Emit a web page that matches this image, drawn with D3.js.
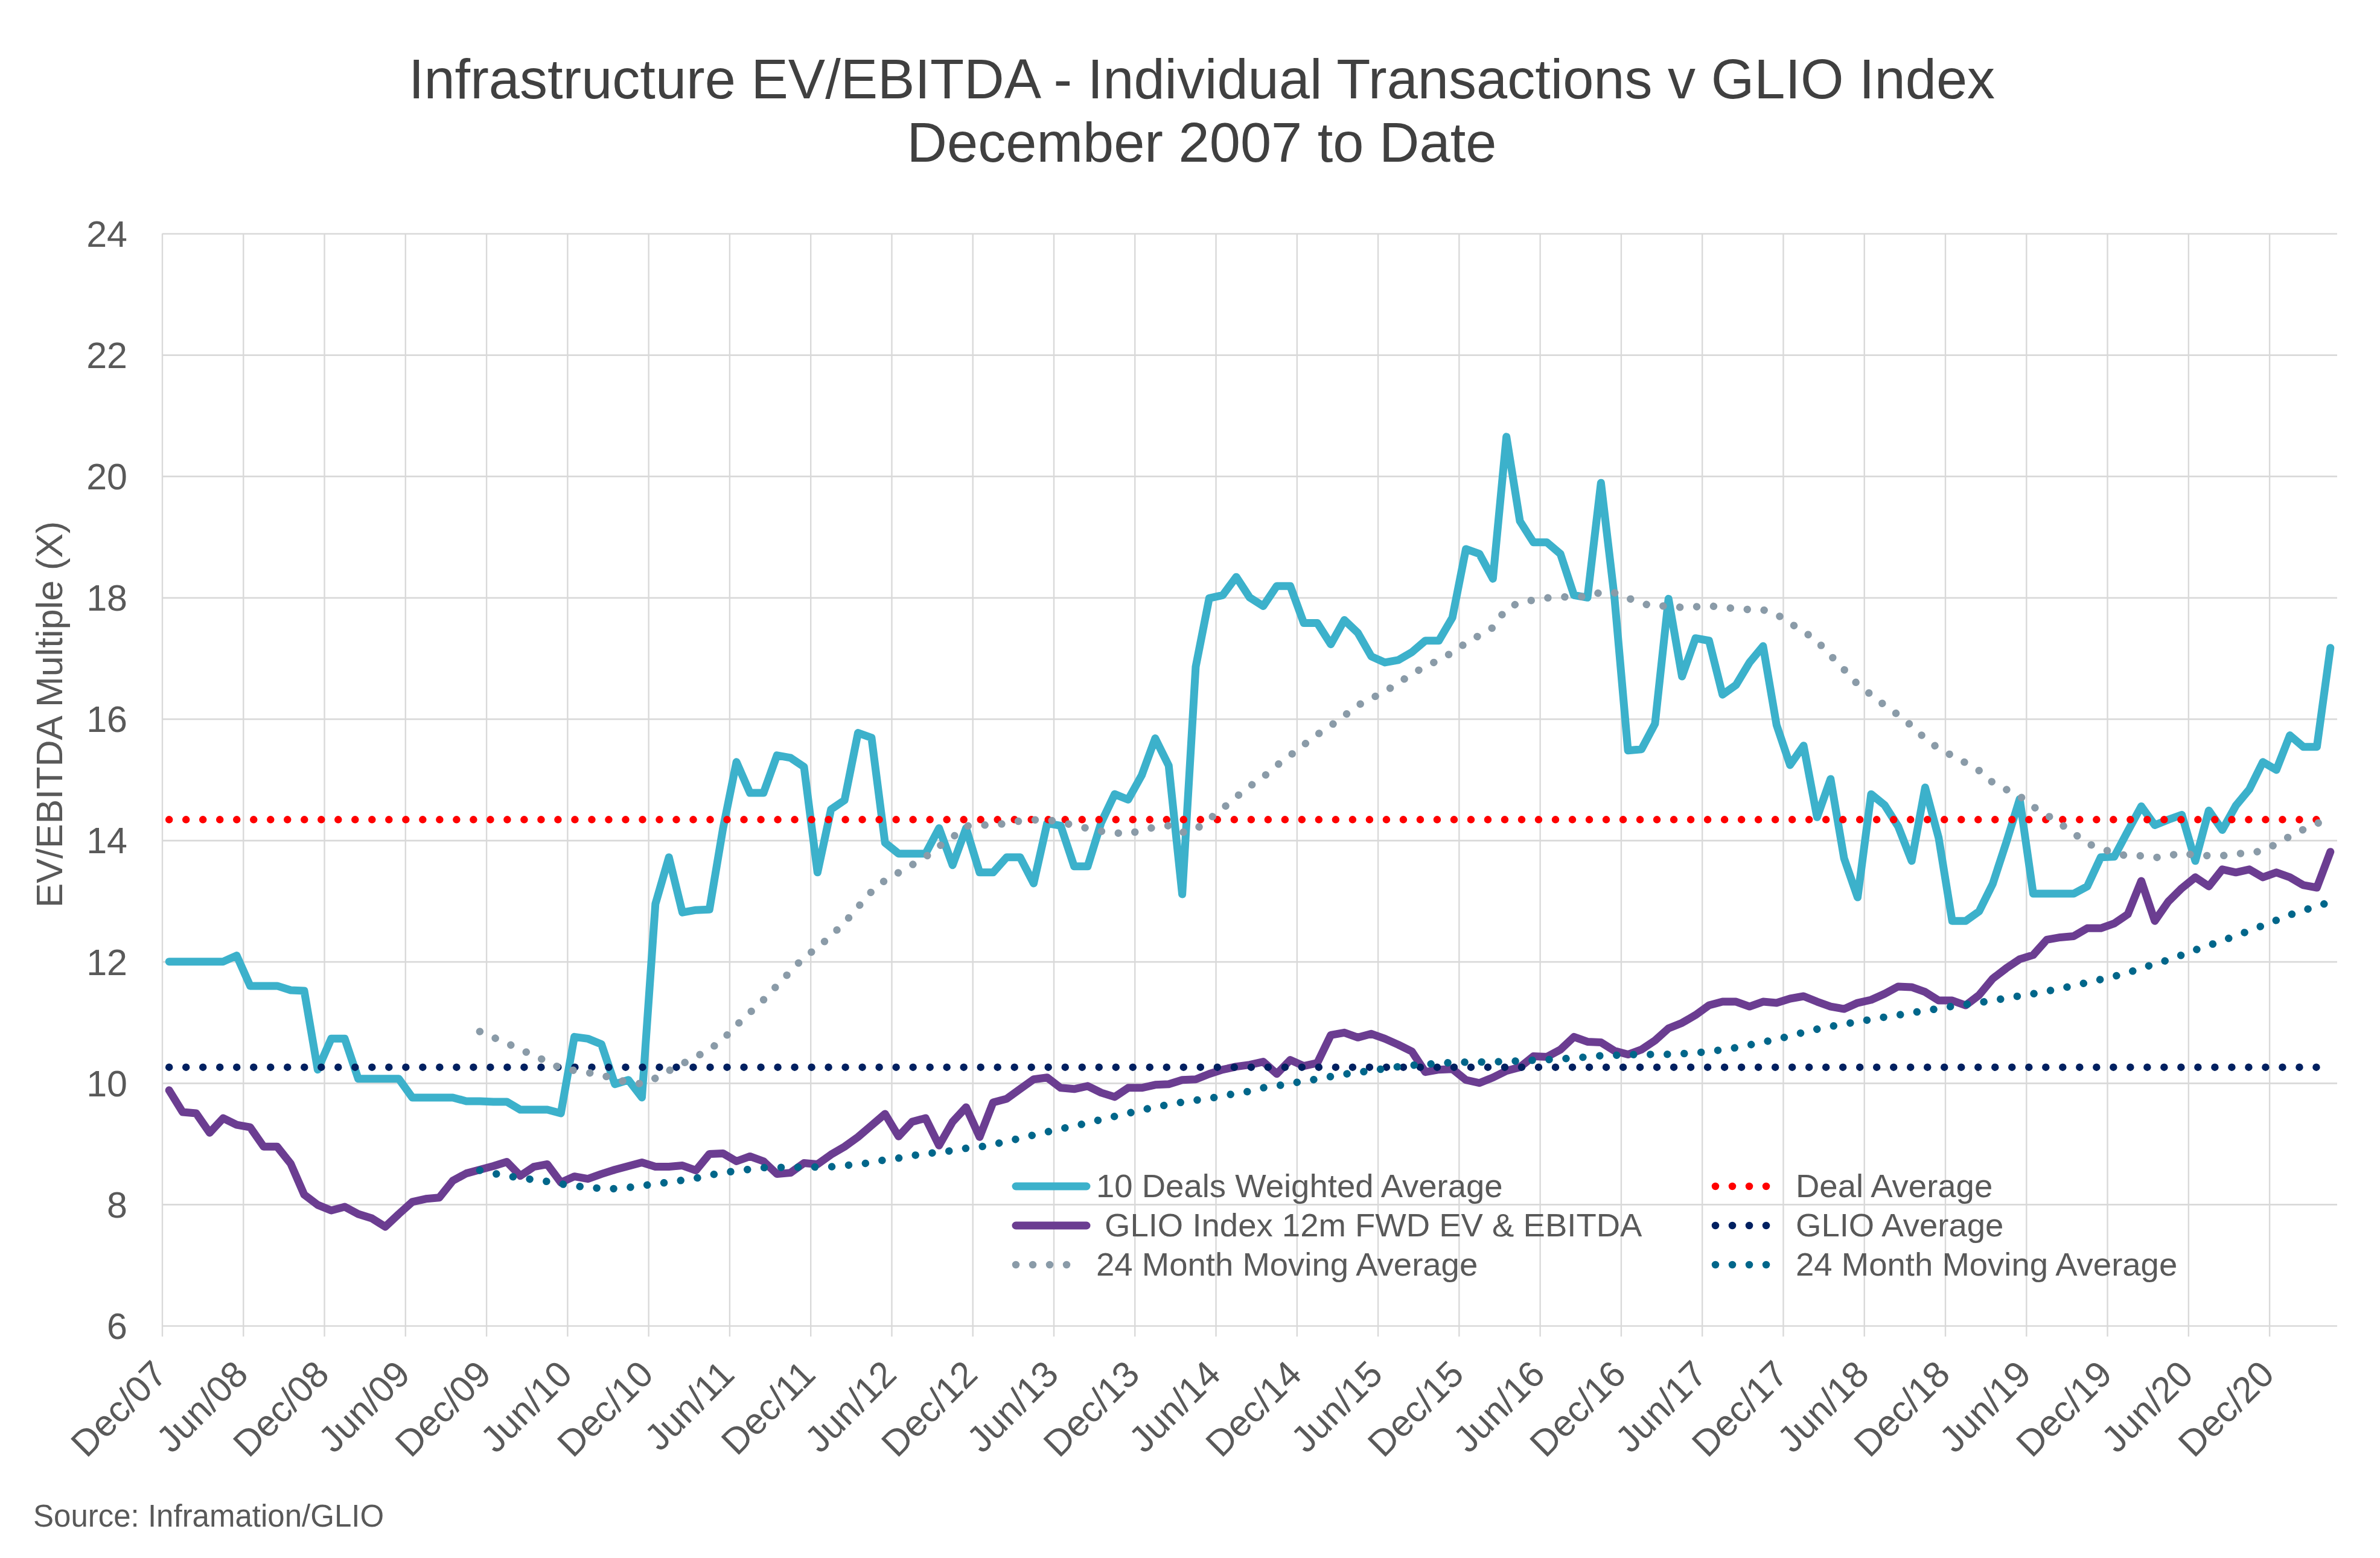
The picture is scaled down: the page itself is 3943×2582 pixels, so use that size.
<!DOCTYPE html>
<html>
<head>
<meta charset="utf-8">
<script src="https://cdn.jsdelivr.net/npm/d3@7"></script>
<style>
  html, body { margin: 0; padding: 0; background: #ffffff; }
  svg { display: block; }
  text { font-family: "Liberation Sans", Arial, sans-serif; }
</style>
</head>
<body>
<script>
// ---------------- DATA ----------------
const titleLines = ["Infrastructure EV/EBITDA - Individual Transactions v GLIO Index", "December 2007 to Date"];
const yAxisTitle = "EV/EBITDA Multiple (X)";
const sourceNote = "Source: Inframation/GLIO";

// monthly categories Dec 2007 .. Apr 2021
const firstMonth = new Date(2007, 11, 1);
const endMonth = new Date(2021, 4, 1);

const tickLabels = ["Dec/07","Jun/08","Dec/08","Jun/09","Dec/09","Jun/10","Dec/10","Jun/11","Dec/11",
  "Jun/12","Dec/12","Jun/13","Dec/13","Jun/14","Dec/14","Jun/15","Dec/15","Jun/16","Dec/16",
  "Jun/17","Dec/17","Jun/18","Dec/18","Jun/19","Dec/19","Jun/20","Dec/20"];
const yTicks = [6, 8, 10, 12, 14, 16, 18, 20, 22, 24];

const dealsWeightedAvg = [
  12.0,12.0,12.0,12.0,12.0, 12.1, 11.6,11.6,11.6, 11.53,11.52, 10.22, 10.73,10.73,
  10.07,10.07,10.07,10.07, 9.76,9.76,9.76,9.76, 9.70,9.70,9.69,9.69, 9.56,9.56,9.56, 9.5,
  10.76,10.73,10.64, 9.98,10.05,9.76,
  12.95,13.72,12.81,12.85,12.86,
  14.19,15.29,14.78,14.78,15.4,15.36,15.21,
  13.47,14.51,14.66,15.77,15.69,
  13.96,13.78,13.78,13.78,
  14.2,13.59,14.2,13.47,13.47,
  13.72,13.72,13.29,14.28,14.24,
  13.57,13.57,14.29,14.76,14.67,
  15.07,15.68,15.23,13.11,16.86,
  17.99,18.04,18.34,18.0,17.86,
  18.19,18.19,17.58,17.58,17.23,
  17.63,17.42,17.03,16.93,16.97,
  17.1,17.29,17.29,17.67,18.8,
  18.72,18.31,20.65,19.26,18.91,
  18.91,18.72,18.04,18.0,19.89,
  18.0,15.48,15.5,15.92,17.98,
  16.7,17.33,17.29,16.4,16.56,
  16.93,17.2,15.9,15.24,15.56,
  14.38,15.01,13.7,13.06,14.76,
  14.58,14.23,13.66,14.87,14.04,
  12.67,12.67,12.83,13.28,13.96,
  14.68,13.12,13.12,13.12,13.12,
  13.24,13.72,13.73,14.15,14.56,
  14.25,14.34,14.42,13.66,14.49,
  14.17,14.57,14.84,15.29,15.16,
  15.73,15.54,15.54,17.17
];

const glioIndex = [
  9.88,9.52,9.5,9.18,9.42,
  9.31,9.27,8.95,8.95,8.67,
  8.16,7.99,7.9,7.96,7.84,
  7.77,7.63,7.84,8.04,8.09,
  8.11,8.39,8.51,8.57,8.63,
  8.70,8.47,8.62,8.66,8.36,
  8.46,8.42,8.5,8.57,8.63,
  8.69,8.62,8.62,8.64,8.56,
  8.83,8.84,8.71,8.79,8.71,
  8.5,8.52,8.68,8.66,8.82,
  8.95,9.11,9.30,9.49,9.12,
  9.36,9.42,8.97,9.36,9.6,
  9.11,9.68,9.74,9.9,10.06,
  10.09,9.92,9.9,9.95,9.84,
  9.77,9.92,9.92,9.97,9.98,
  10.05,10.06,10.15,10.22,10.27,
  10.3,10.35,10.15,10.38,10.28,
  10.33,10.79,10.83,10.75,10.81,
  10.73,10.63,10.52,10.18,10.22,
  10.23,10.05,10.0,10.09,10.2,
  10.26,10.44,10.43,10.55,10.76,
  10.68,10.67,10.53,10.47,10.55,
  10.70,10.9,10.99,11.12,11.28,
  11.34,11.34,11.26,11.34,11.32,
  11.39,11.43,11.34,11.26,11.22,
  11.32,11.37,11.47,11.59,11.58,
  11.5,11.36,11.36,11.28,11.45,
  11.72,11.89,12.04,12.11,12.36,
  12.40,12.42,12.55,12.55,12.63,
  12.78,13.33,12.67,12.99,13.21,
  13.39,13.24,13.52,13.47,13.52,
  13.39,13.47,13.39,13.26,13.22,
  13.81
];

const dealAverage = 14.34;
const glioAverage = 10.26;
const maPeriod = 24;

const seriesNames = ["10 Deals Weighted Average", "Deal Average", "GLIO Index 12m FWD EV & EBITDA",
                     "GLIO Average", "24 Month Moving Average", "24 Month Moving Average"];

// ---------------- LAYOUT / STYLE ----------------
const W = 3943, H = 2582;
const plot = { left: 269, right: 3872, top: 387, bottom: 2197 };
const C = {
  cyan: "#3CB1CB", purple: "#6B3D91", gray: "#8A9BA8", red: "#FF0000",
  navy: "#002060", teal: "#00668A", grid: "#D9D9D9", text: "#595959", title: "#404040"
};
const font = "'Liberation Sans', Arial, sans-serif";
const LINE_W = 13, DOT_W = 12.5, DOT_GAP = 28;

const months = d3.timeMonth.range(firstMonth, endMonth);

const svg = d3.select("body").append("svg").attr("width", W).attr("height", H)
  .attr("viewBox", `0 0 ${W} ${H}`);
svg.append("rect").attr("width", W).attr("height", H).attr("fill", "#fff");

const x = d3.scaleBand().domain(months).range([plot.left, plot.right]).padding(0);
const xc = d => x(d) + x.bandwidth() / 2;
const y = d3.scaleLinear().domain([6, 24]).range([plot.bottom, plot.top]);

// Title
const tg = svg.append("g").attr("fill", C.title).attr("font-size", 92).attr("text-anchor", "middle");
tg.append("text").attr("x", 1991).attr("y", 163).text(titleLines[0]);
tg.append("text").attr("x", 1991).attr("y", 268).text(titleLines[1]);

// Horizontal gridlines via axis
const yAxis = d3.axisLeft(y).tickValues(yTicks).tickSize(-(plot.right - plot.left)).tickPadding(58);
const gy = svg.append("g").attr("transform", `translate(${plot.left},0)`).call(yAxis);
gy.select(".domain").remove();
gy.selectAll(".tick line").attr("stroke", C.grid).attr("stroke-width", 2.7);
gy.selectAll(".tick text").attr("fill", C.text).attr("font-size", 61).attr("font-family", font)
  .attr("x", 211 - plot.left).attr("dy", "0.35em");

// Vertical gridlines every 6 months with tick marks below the axis
const tickMonths = months.filter((d, i) => i % 6 === 0);
const xAxis = d3.axisBottom(x).tickValues(tickMonths).tickSize(0).tickFormat((d, i) => tickLabels[i]);
const gx = svg.append("g").attr("transform", `translate(0,${plot.bottom})`).call(xAxis);
gx.select(".domain").remove();
gx.selectAll(".tick").attr("transform", d => `translate(${x(d)},0)`);
gx.selectAll(".tick line").attr("stroke", C.grid).attr("stroke-width", 2.4)
  .attr("y1", -(plot.bottom - plot.top)).attr("y2", 18);
gx.selectAll(".tick text").attr("fill", C.text).attr("font-size", 61).attr("font-family", font)
  .attr("text-anchor", "end").attr("y", null).attr("dy", null)
  .attr("transform", "translate(11,84) rotate(-45)");

// Y axis title
svg.append("text").attr("transform", "translate(103,1184) rotate(-90)")
  .attr("text-anchor", "middle").attr("fill", C.text).attr("font-size", 61).text(yAxisTitle);

// Source
svg.append("text").attr("x", 55).attr("y", 2530).attr("fill", C.text).attr("font-size", 51).text(sourceNote);

// ---------------- SERIES ----------------
const idx = d3.range(months.length);

// Excel-style 24-period moving-average trendline of a series
function movingAverage(values, n) {
  return values.map((v, i) => i < n - 1 ? null : d3.mean(values.slice(i - n + 1, i + 1)));
}
const dealsMA = movingAverage(dealsWeightedAvg, maPeriod);
const glioMA = movingAverage(glioIndex, maPeriod);

const solid = (vals, color) => svg.append("path")
  .attr("d", d3.line().x(i => xc(months[i])).y(i => y(vals[i]))(idx))
  .attr("fill", "none").attr("stroke", color).attr("stroke-width", LINE_W)
  .attr("stroke-linejoin", "round").attr("stroke-linecap", "round");

const dotted = (vals, color) => svg.append("path")
  .attr("d", d3.line().defined(i => vals[i] != null).x(i => xc(months[i])).y(i => y(vals[i]))(idx))
  .attr("fill", "none").attr("stroke", color).attr("stroke-width", DOT_W)
  .attr("stroke-linecap", "round").attr("stroke-dasharray", `0.01 ${DOT_GAP}`);

solid(dealsWeightedAvg, C.cyan);
solid(glioIndex, C.purple);
dotted(idx.map(() => dealAverage), C.red);
dotted(idx.map(() => glioAverage), C.navy);
dotted(dealsMA, C.gray);
dotted(glioMA, C.teal);

// ---------------- LEGEND ----------------
const legendItems = [
  { name: seriesNames[0], color: C.cyan, type: "solid", col: 0, row: 0 },
  { name: seriesNames[2], color: C.purple, type: "solid", col: 0, row: 1, indent: 14 },
  { name: seriesNames[4], color: C.gray, type: "dot", col: 0, row: 2 },
  { name: seriesNames[1], color: C.red, type: "dot", col: 1, row: 0 },
  { name: seriesNames[3], color: C.navy, type: "dot", col: 1, row: 1 },
  { name: seriesNames[5], color: C.teal, type: "dot", col: 1, row: 2 }
];
const colX = [1677, 2836];
const rowY = [1966, 2031, 2096];
const lg = svg.append("g");
legendItems.forEach(it => {
  const x0 = colX[it.col], yy = rowY[it.row];
  if (it.type === "solid") {
    lg.append("line").attr("x1", x0 + 6).attr("x2", x0 + 123).attr("y1", yy).attr("y2", yy)
      .attr("stroke", it.color).attr("stroke-width", LINE_W).attr("stroke-linecap", "round");
  } else {
    lg.append("line").attr("x1", x0 + 6).attr("x2", x0 + 118).attr("y1", yy).attr("y2", yy)
      .attr("stroke", it.color).attr("stroke-width", DOT_W).attr("stroke-linecap", "round")
      .attr("stroke-dasharray", `0.01 ${DOT_GAP}`);
  }
  lg.append("text").attr("x", x0 + 139 + (it.indent || 0)).attr("y", yy + 18)
    .attr("fill", C.text).attr("font-size", 54.5).text(it.name);
});
</script>
</body>
</html>
